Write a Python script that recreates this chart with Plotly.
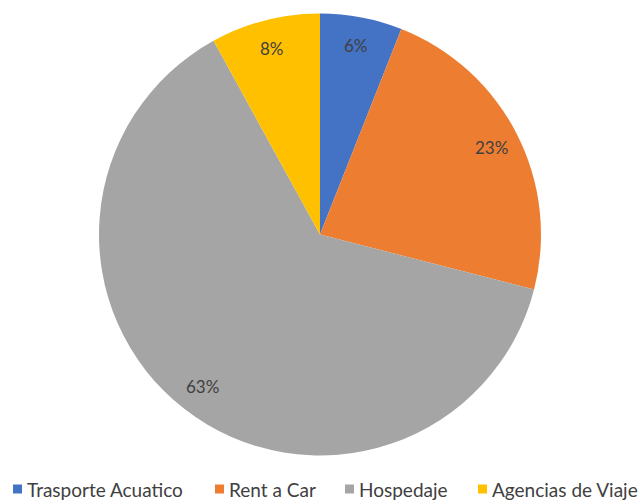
import math
import plotly.graph_objects as go

# Share of tourism services (percent)
categories = ["Trasporte Acuatico", "Rent a Car", "Hospedaje", "Agencias de Viaje"]
values = [6, 23, 63, 8]
colors = ["#4472C4", "#ED7D31", "#A5A5A5", "#FFC000"]

W, H = 639, 500
CX, CY, R = 320.0, 234.5, 221.0          # pie centre and radius in pixels
LABEL_R = 0.87                            # radial position of the percentage labels
FONT = "Lato"
TEXT_COLOR = "#404040"


def px_x(x):
    return x / W


def px_y(y):
    return 1 - y / H


fig = go.Figure(
    go.Pie(
        labels=categories,
        values=values,
        sort=False,
        direction="clockwise",
        rotation=0,
        marker=dict(colors=colors, line=dict(width=0)),
        textinfo="none",
        hoverinfo="label+percent",
        showlegend=False,
        domain=dict(x=[px_x(CX - R), px_x(CX + R)], y=[px_y(CY + R), px_y(CY - R)]),
    )
)

# Percentage labels placed on each slice's bisector
total = sum(values)
cum = 0.0
annotations = []
for v in values:
    mid = (cum + v / 2) / total * 2 * math.pi
    cum += v
    lx = CX + LABEL_R * R * math.sin(mid)
    ly = CY - LABEL_R * R * math.cos(mid)
    annotations.append(
        dict(
            x=px_x(lx), y=px_y(ly), xref="paper", yref="paper",
            text=f"{round(v / total * 100)}%", showarrow=False,
            font=dict(family=FONT, size=17, color=TEXT_COLOR),
            xanchor="center", yanchor="middle",
        )
    )

# Legend row along the bottom: colour swatch followed by the category name
legend_x = [13, 215, 345, 478]
legend_y = 489
shapes = []
for name, col, x0 in zip(categories, colors, legend_x):
    shapes.append(
        dict(
            type="rect", xref="paper", yref="paper",
            x0=px_x(x0), x1=px_x(x0 + 9), y0=px_y(legend_y + 4.5), y1=px_y(legend_y - 4.5),
            fillcolor=col, line=dict(width=0),
        )
    )
    annotations.append(
        dict(
            x=px_x(x0 + 12), y=px_y(legend_y), xref="paper", yref="paper",
            text=name, showarrow=False,
            font=dict(family=FONT, size=19, color=TEXT_COLOR),
            xanchor="left", yanchor="middle",
        )
    )

fig.update_layout(
    width=W, height=H,
    margin=dict(l=0, r=0, t=0, b=0),
    paper_bgcolor="white",
    plot_bgcolor="white",
    annotations=annotations,
    shapes=shapes,
)

fig.write_html("out.html")
